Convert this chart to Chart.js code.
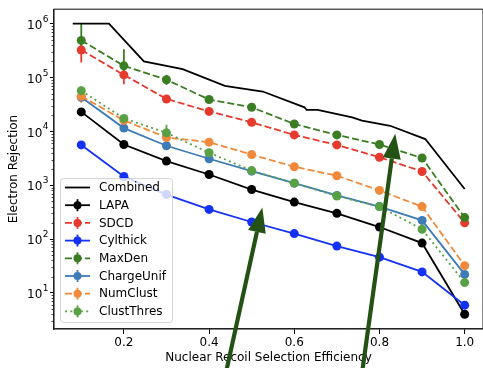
<!DOCTYPE html>
<html>
<head>
<meta charset="utf-8">
<script src="https://cdn.jsdelivr.net/npm/chart.js@4.4.0/dist/chart.umd.min.js"></script>
<style>
  html, body { margin: 0; padding: 0; background: #fff; overflow: hidden; }
  #wrap { width: 483px; height: 368px; }
  canvas { display: block; }
</style>
</head>
<body>
<div id="wrap"><canvas id="myChart"></canvas></div>
<script>
// values
var efficiency = [0.1, 0.2, 0.3, 0.4, 0.5, 0.6, 0.7, 0.8, 0.9, 1.0];

var combinedX = [0.08, 0.165, 0.247, 0.338, 0.437, 0.526, 0.624, 0.629, 0.655, 0.736, 0.759, 0.825, 0.9075, 1.0];
var combinedY = [1e6, 1e6, 2.0e5, 1.43e5, 7.0e4, 5.5e4, 2.8e4, 2.5e4, 2.5e4, 1.82e4, 1.58e4, 1.27e4, 7.2e3, 850];

var lapa = [2.3e4, 5.7e3, 2.8e3, 1.58e3, 830, 485, 300, 167, 84, 4.0];
var sdcd = [3.25e5, 1.12e5, 4.0e4, 2.35e4, 1.47e4, 8.6e3, 5.6e3, 3.3e3, 1.8e3, 200];
var cylthick = [5.6e3, 1.45e3, 670, 355, 207, 126, 74, 46, 24.5, 5.9];
var maxden = [4.9e5, 1.65e5, 9.1e4, 3.9e4, 2.8e4, 1.37e4, 8.6e3, 5.7e3, 3.2e3, 250];
var chargeUnif = [4.3e4, 1.15e4, 5.4e3, 3.1e3, 1.82e3, 1.09e3, 645, 400, 222, 22];
var numClust = [4.5e4, 1.6e4, 7.7e3, 6.3e3, 3.7e3, 2.2e3, 1.5e3, 800, 400, 32];
var clustThres = [5.7e4, 1.74e4, 9.4e3, 4.0e3, 1.87e3, 1.09e3, 630, 400, 152, 15.5];

// error bars (low / high), null = none visible
var maxdenLo = [2.8e5, 1.05e5, 7.3e4, null, null, null, null, null, null, null];
var maxdenHi = [1.0e6, 3.35e5, 1.12e5, null, null, null, null, null, null, null];
var sdcdLo = [1.9e5, 7.5e4, null, null, null, null, null, null, null, null];
var sdcdHi = [4.2e5, 1.43e5, null, null, null, null, null, null, null, null];
var numClustLo = [3.4e4, null, 6.7e3, null, null, null, null, null, null, null];
var numClustHi = [5.5e4, null, 9.0e3, null, null, null, null, null, null, null];
var clustThresLo = [4.8e4, 1.55e4, 7.5e3, null, null, null, null, null, null, null];
var clustThresHi = [6.8e4, 1.98e4, 1.33e4, null, null, null, null, null, null, null];

var xTicks = [0.2, 0.4, 0.6, 0.8, 1.0];
var yDecades = [1, 2, 3, 4, 5, 6];

var FONT = 'DejaVu Sans';
var DASH = [7, 3];
var DOT = [2, 3.3];

function pts(ys) {
    return efficiency.map(function (x, i) { return { x: x, y: ys[i] }; });
}

var series = [
    { label: 'LAPA', data: lapa, color: '#000000', dash: [] },
    { label: 'SDCD', data: sdcd, color: '#e63a2e', dash: DASH, lo: sdcdLo, hi: sdcdHi },
    { label: 'Cylthick', data: cylthick, color: '#1432f5', dash: [] },
    { label: 'MaxDen', data: maxden, color: '#3a7d22', dash: DASH, lo: maxdenLo, hi: maxdenHi },
    { label: 'ChargeUnif', data: chargeUnif, color: '#3e7cb8', dash: [] },
    { label: 'NumClust', data: numClust, color: '#f08a3a', dash: DASH, lo: numClustLo, hi: numClustHi },
    { label: 'ClustThres', data: clustThres, color: '#58a145', dash: DOT, lo: clustThresLo, hi: clustThresHi }
];

var datasets = [{
    label: 'Combined',
    data: combinedX.map(function (x, i) { return { x: x, y: combinedY[i] }; }),
    borderColor: '#000000',
    borderWidth: 1.8,
    pointRadius: 0,
    showLine: true,
    order: 10
}];

series.forEach(function (s, i) {
    datasets.push({
        label: s.label,
        data: pts(s.data),
        borderColor: s.color,
        backgroundColor: s.color,
        borderWidth: 1.8,
        borderDash: s.dash,
        pointRadius: 4.5,
        pointBorderWidth: 0,
        pointBackgroundColor: s.color,
        showLine: true,
        order: 9 - i
    });
});

var arrows = [
    { tipX: 0.525, tipY: 386, tailX: 0.441 },
    { tipX: 0.837, tipY: 9060, tailX: 0.76 }
];

var extras = {
    id: 'extras',
    beforeDatasetsDraw: function (chart) {
        var ctx = chart.ctx, xs = chart.scales.x, ys = chart.scales.y;
        ctx.save();
        series.forEach(function (s) {
            if (!s.lo) return;
            ctx.strokeStyle = s.color;
            ctx.lineWidth = 1.8;
            ctx.setLineDash([]);
            for (var i = 0; i < efficiency.length; i++) {
                if (s.lo[i] == null) continue;
                var px = xs.getPixelForValue(efficiency[i]);
                ctx.beginPath();
                ctx.moveTo(px, ys.getPixelForValue(s.lo[i]));
                ctx.lineTo(px, ys.getPixelForValue(s.hi[i]));
                ctx.stroke();
            }
        });
        ctx.restore();
    },
    afterDatasetsDraw: function (chart) {
        var ctx = chart.ctx, a = chart.chartArea, ys = chart.scales.y;
        ctx.save();

        // minor ticks on the log axis
        ctx.strokeStyle = '#000';
        ctx.lineWidth = 0.7;
        for (var e = 0; e <= 6; e++) {
            for (var k = 2; k <= 9; k++) {
                var v = k * Math.pow(10, e);
                if (v < ys.min || v > ys.max) continue;
                var py = Math.round(ys.getPixelForValue(v)) + 0.5;
                ctx.beginPath();
                ctx.moveTo(a.left - 2.5, py);
                ctx.lineTo(a.left, py);
                ctx.stroke();
            }
        }

        // 10^n tick labels
        ctx.fillStyle = '#000';
        ctx.textAlign = 'right';
        ctx.textBaseline = 'alphabetic';
        yDecades.forEach(function (d) {
            var py = ys.getPixelForValue(Math.pow(10, d));
            ctx.font = '9px "' + FONT + '"';
            var ew = ctx.measureText(String(d)).width;
            var rx = a.left - 5.5;
            ctx.fillText(String(d), rx, py - 2);
            ctx.font = '12px "' + FONT + '"';
            ctx.fillText('10', rx - ew - 0.5, py + 5.3);
        });
        ctx.textAlign = 'left';

        // frame
        ctx.lineWidth = 1.1;
        ctx.strokeStyle = '#222';
        ctx.strokeRect(a.left, a.top, a.right - a.left, a.bottom - a.top);

        // legend, lower left
        var lw = 112, lh = 144;
        var lx = a.left + 6, ly = a.bottom - 7 - lh;
        ctx.fillStyle = 'rgba(255,255,255,0.8)';
        ctx.strokeStyle = 'rgba(204,204,204,0.8)';
        ctx.lineWidth = 1;
        ctx.beginPath();
        ctx.roundRect(lx + 0.5, ly + 0.5, lw, lh, 3);
        ctx.fill();
        ctx.stroke();

        var entries = [{ label: 'Combined', color: '#000', dash: [], marker: false }].concat(
            series.map(function (s) { return { label: s.label, color: s.color, dash: s.dash, marker: true }; }));
        ctx.font = '12px "' + FONT + '"';
        ctx.textBaseline = 'middle';
        entries.forEach(function (en, i) {
            var cy = ly + 9.5 + i * 17.7;
            ctx.strokeStyle = en.color;
            ctx.lineWidth = 1.8;
            ctx.setLineDash(en.dash);
            ctx.beginPath();
            ctx.moveTo(lx + 5, cy);
            ctx.lineTo(lx + 30, cy);
            ctx.stroke();
            ctx.setLineDash([]);
            if (en.marker) {
                ctx.beginPath();
                ctx.moveTo(lx + 17.5, cy - 6);
                ctx.lineTo(lx + 17.5, cy + 6);
                ctx.stroke();
                ctx.fillStyle = en.color;
                ctx.beginPath();
                ctx.arc(lx + 17.5, cy, 4, 0, Math.PI * 2);
                ctx.fill();
            }
            ctx.fillStyle = '#000';
            ctx.fillText(en.label, lx + 39, cy + 0.5);
        });
        ctx.restore();
    },
    afterDraw: function (chart) {
        var ctx = chart.ctx, xs = chart.scales.x, ys = chart.scales.y;
        ctx.save();
        ctx.fillStyle = '#245214';
        ctx.strokeStyle = '#245214';
        arrows.forEach(function (ar) {
            var x1 = xs.getPixelForValue(ar.tipX), y1 = ys.getPixelForValue(ar.tipY);
            var x0 = xs.getPixelForValue(ar.tailX), y0 = chart.height + 2;
            var ang = Math.atan2(y1 - y0, x1 - x0);
            var hl = 25, hw = 9;
            var bx = x1 - hl * Math.cos(ang), by = y1 - hl * Math.sin(ang);
            ctx.lineWidth = 4.2;
            ctx.beginPath();
            ctx.moveTo(x0, y0);
            ctx.lineTo(bx, by);
            ctx.stroke();
            ctx.beginPath();
            ctx.moveTo(x1, y1);
            ctx.lineTo(bx + hw * Math.sin(ang), by - hw * Math.cos(ang));
            ctx.lineTo(bx - hw * Math.sin(ang), by + hw * Math.cos(ang));
            ctx.closePath();
            ctx.fill();
        });
        ctx.restore();
    }
};

var ctx = document.getElementById('myChart');

var myChart = new Chart(ctx, {
    type: 'scatter',
    data: { datasets: datasets },
    options: {
        animation: false,
        responsive: true,
        maintainAspectRatio: false,
        layout: { autoPadding: false, padding: { top: 8, right: -1, left: 0, bottom: 0 } },
        plugins: {
            legend: { display: false },
            tooltip: { enabled: false }
        },
        scales: {
            x: {
                type: 'linear',
                min: 0.036,
                max: 1.043,
                afterBuildTicks: function (scale) {
                    scale.ticks = xTicks.map(function (v) { return { value: v }; });
                },
                afterFit: function (scale) {
                    scale.height = 39;
                },
                grid: { drawOnChartArea: false, tickLength: 5, color: '#000' },
                border: { display: true, color: '#222', width: 1.1 },
                ticks: {
                    color: '#000',
                    padding: 2,
                    maxRotation: 0,
                    font: { family: FONT, size: 12 },
                    callback: function (v) { return v.toFixed(1); }
                },
                title: {
                    display: true,
                    text: 'Nuclear Recoil Selection Efficiency',
                    color: '#000',
                    font: { family: FONT, size: 12 },
                    padding: { top: 0, bottom: 3 }
                }
            },
            y: {
                type: 'logarithmic',
                min: 2.13,
                max: 1.86e6,
                afterBuildTicks: function (scale) {
                    scale.ticks = yDecades.map(function (d) { return { value: Math.pow(10, d) }; });
                },
                afterFit: function (scale) {
                    scale.width = 54;
                },
                grid: { drawOnChartArea: false, tickLength: 4, color: '#000' },
                border: { display: true, color: '#222', width: 1.1 },
                ticks: {
                    color: '#000',
                    padding: 2,
                    font: { family: FONT, size: 12 },
                    callback: function () { return ''; }
                },
                title: {
                    display: true,
                    text: 'Electron Rejection',
                    color: '#000',
                    font: { family: FONT, size: 12 },
                    padding: { top: 7, bottom: 0 }
                }
            }
        }
    },
    plugins: [extras]
});
</script>
</body>
</html>
